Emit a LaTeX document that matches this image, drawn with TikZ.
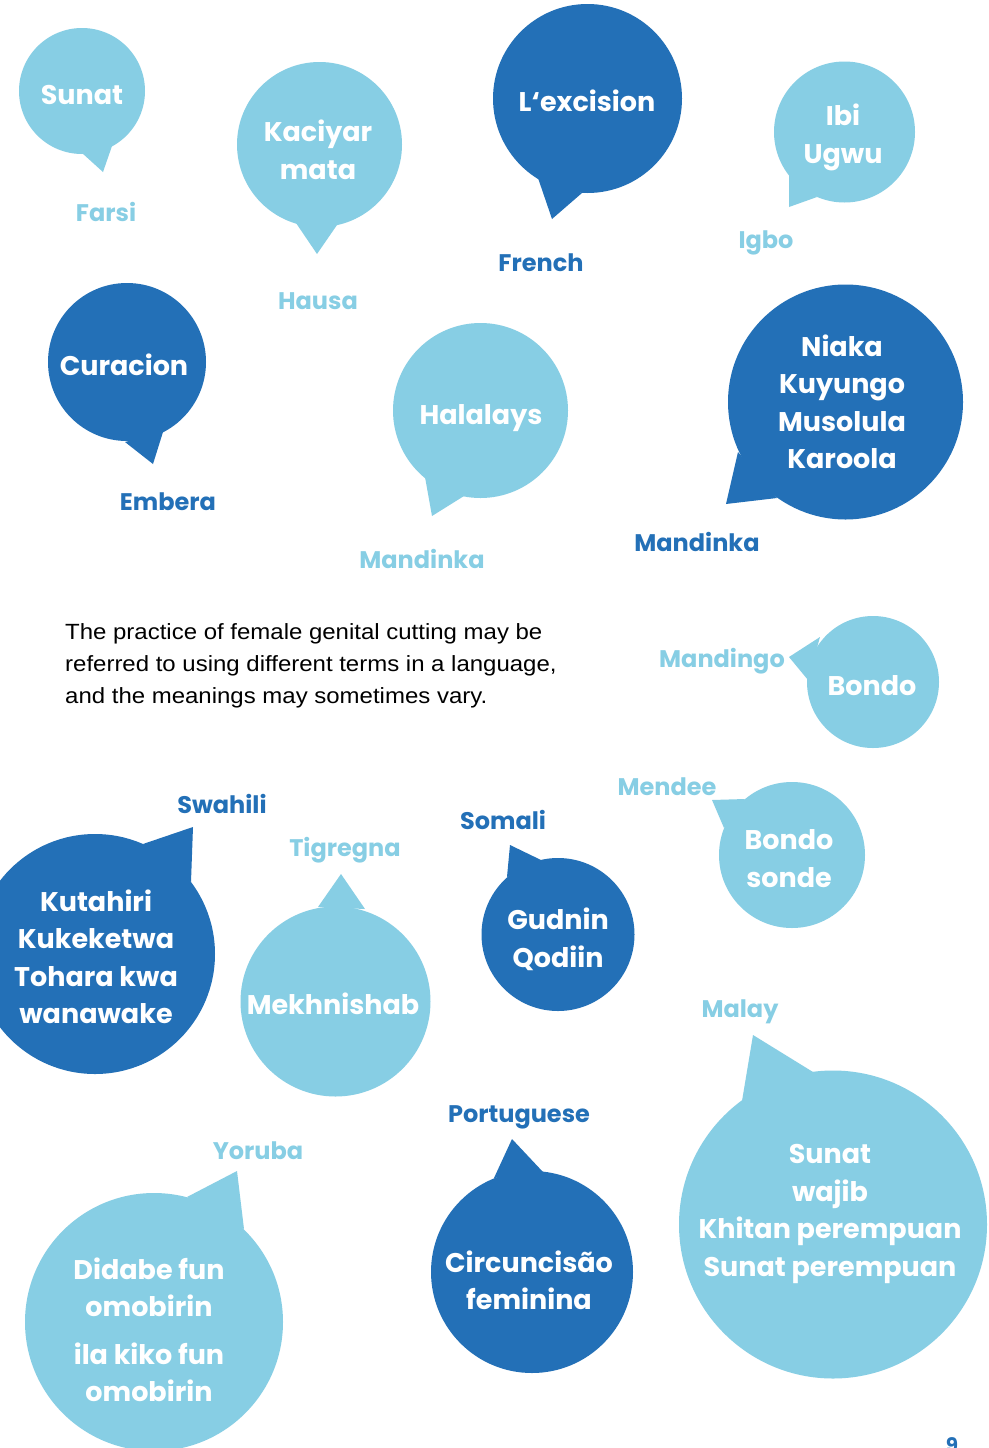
\documentclass[tikz,border=0pt]{standalone}
\usepackage{fontspec}
\newfontfamily\pop{Poppins}
\newfontfamily\bodyf{Liberation Sans}[FakeStretch=1.09]
\definecolor{lb}{RGB}{135,206,228}
\definecolor{db}{RGB}{35,112,183}
\begin{document}
\begin{tikzpicture}[x=1pt,y=-1pt,
  bubl/.style={circle,fill=lb,draw=none,inner sep=0pt,minimum size=#1},
  bubd/.style={circle,fill=db,draw=none,inner sep=0pt,minimum size=#1},
  btext/.style={text=white,font=\pop\bfseries\fontsize{27}{37.5}\selectfont,align=center,inner sep=0pt},
  lblL/.style={text=lb,font=\pop\bfseries\fontsize{24}{28}\selectfont,inner sep=0pt,anchor=base},
  lblD/.style={text=db,font=\pop\bfseries\fontsize{24}{28}\selectfont,inner sep=0pt,anchor=base}]
\useasboundingbox (0,0) rectangle (988,1448);
\clip (0,0) rectangle (988,1448);
\fill[white] (0,0) rectangle (988,1448);

% Sunat (Farsi)
\fill[lb] (82,153) -- (103,172) -- (112,146) -- cycle;
\node[bubl=126] (sunat) at (82,91) {};
\node[btext] (tsunat) at (82,95) {Sunat};
\node[lblL] (farsi) at (106,221) {Farsi};

% Kaciyar mata (Hausa)
\fill[lb] (296,223) -- (317,254) -- (337,225) -- cycle;
\node[bubl=165] (kaciyar) at (319.5,144.5) {};
\node[btext] (tkaciyar) at (318,150) {Kaciyar\\mata};
\node[lblL] (hausa) at (318,309) {Hausa};

% L'excision (French)
\fill[db] (538,178) -- (552,219) -- (582,193) -- cycle;
\node[bubd=189] (excision) at (587.5,98.5) {};
\node[btext] (texcision) at (587,101) {L‘excision};
\node[lblD] (french) at (541,271) {French};

% Ibi Ugwu (Igbo)
\fill[lb] (789,172) -- (789,207) -- (817,197) -- cycle;
\node[bubl=141] (ibi) at (844.5,132) {};
\node[btext] (tibi) at (843,137.5) {Ibi\\Ugwu};
\node[lblL] (igbo) at (766,248) {Igbo};

% Curacion (Embera)
\fill[db] (125,442) -- (153,464) -- (163,432) -- cycle;
\node[bubd=158] (curacion) at (127,362) {};
\node[btext] (tcuracion) at (124,365) {Curacion};
\node[lblD] (embera) at (168,510) {Embera};

% Halalays (Mandinka)
\fill[lb] (425,477) -- (432,516) -- (464,496) -- cycle;
\node[bubl=175] (halalays) at (480.5,410.5) {};
\node[btext] (thalalays) at (481,418) {Halalays};
\node[lblL] (mandinkaL) at (422,568) {Mandinka};

% Niaka ... (Mandinka)
\fill[db] (738,452) -- (726,504) -- (777,498) -- cycle;
\node[bubd=235] (niaka) at (845.5,402) {};
\node[btext] (tniaka) at (842,402) {Niaka\\Kuyungo\\Musolula\\Karoola};
\node[lblD] (mandinkaD) at (697,551) {Mandinka};

% body text
\node[font=\bodyf\fontsize{22}{32}\selectfont,align=left,anchor=west,inner sep=0pt] (body) at (65,666)
  {The practice of female genital cutting may be\\referred to using different terms in a language,\\and the meanings may sometimes vary.};

% Bondo (Mandingo)
\fill[lb] (820,637) -- (789,657) -- (808,680) -- cycle;
\node[bubl=132] (bondo) at (873,682) {};
\node[btext] (tbondo) at (872,686) {Bondo};
\node[lblL] (mandingo) at (722,667) {Mandingo};

% Kutahiri (Swahili)
\fill[db] (143,844) -- (193,827) -- (191,882) -- cycle;
\node[bubd=240] (kutahiri) at (95,954) {};
\node[btext] (tkutahiri) at (96,957) {Kutahiri\\Kukeketwa\\Tohara kwa\\wanawake};
\node[lblD] (swahili) at (222,813) {Swahili};

% Mekhnishab (Tigregna)
\fill[lb] (318,907) -- (341,874) -- (365,909) -- cycle;
\node[bubl=190] (mekh) at (335.5,1001.5) {};
\node[btext] (tmekh) at (333,1004) {Mekhnishab};
\node[lblL] (tigregna) at (345,856) {Tigregna};

% Gudnin Qodiin (Somali)
\fill[db] (507,877) -- (510,845) -- (541,860) -- cycle;
\node[bubd=153] (gudnin) at (558,934.5) {};
\node[btext] (tgudnin) at (558,939.5) {Gudnin\\Qodiin};
\node[lblD] (somali) at (503,829) {Somali};

% Bondo sonde (Mendee)
\fill[lb] (745,799) -- (712,800) -- (724,828) -- cycle;
\node[bubl=146] (bsonde) at (792,855) {};
\node[btext] (tbsonde) at (789,858.5) {Bondo\\sonde};
\node[lblL] (mendee) at (667,795) {Mendee};

% Sunat wajib (Malay)
\fill[lb] (742,1101) -- (753,1035) -- (813,1072) -- cycle;
\node[bubl=308] (wajib) at (833,1224.5) {};
\node[btext] (twajib) at (830,1214) {Sunat\\wajib\\Khitan perempuan\\Sunat perempuan};
\node[lblL] (malay) at (740,1017) {Malay};

% Circuncisao (Portuguese)
\fill[db] (494,1178) -- (512,1139) -- (543,1172) -- cycle;
\node[bubd=202] (circ) at (532,1272) {};
\node[btext] (tcirc) at (529,1280.5) {Circuncisão\\feminina};
\node[lblD] (portuguese) at (519,1122) {Portuguese};

% Didabe (Yoruba)
\fill[lb] (187,1197) -- (237,1171) -- (244,1229) -- cycle;
\node[bubl=258] (didabe) at (154,1322) {};
\node[btext] (tdidabe) at (149,1330) {Didabe fun\\omobirin\\[10pt]ila kiko fun\\omobirin};
\node[lblL] (yoruba) at (258,1159) {Yoruba};

% page number
\node[text=db,font=\pop\bfseries\fontsize{20}{24}\selectfont,inner sep=0pt,anchor=base] (pagenum) at (952,1452) {9};
\end{tikzpicture}
\end{document}
